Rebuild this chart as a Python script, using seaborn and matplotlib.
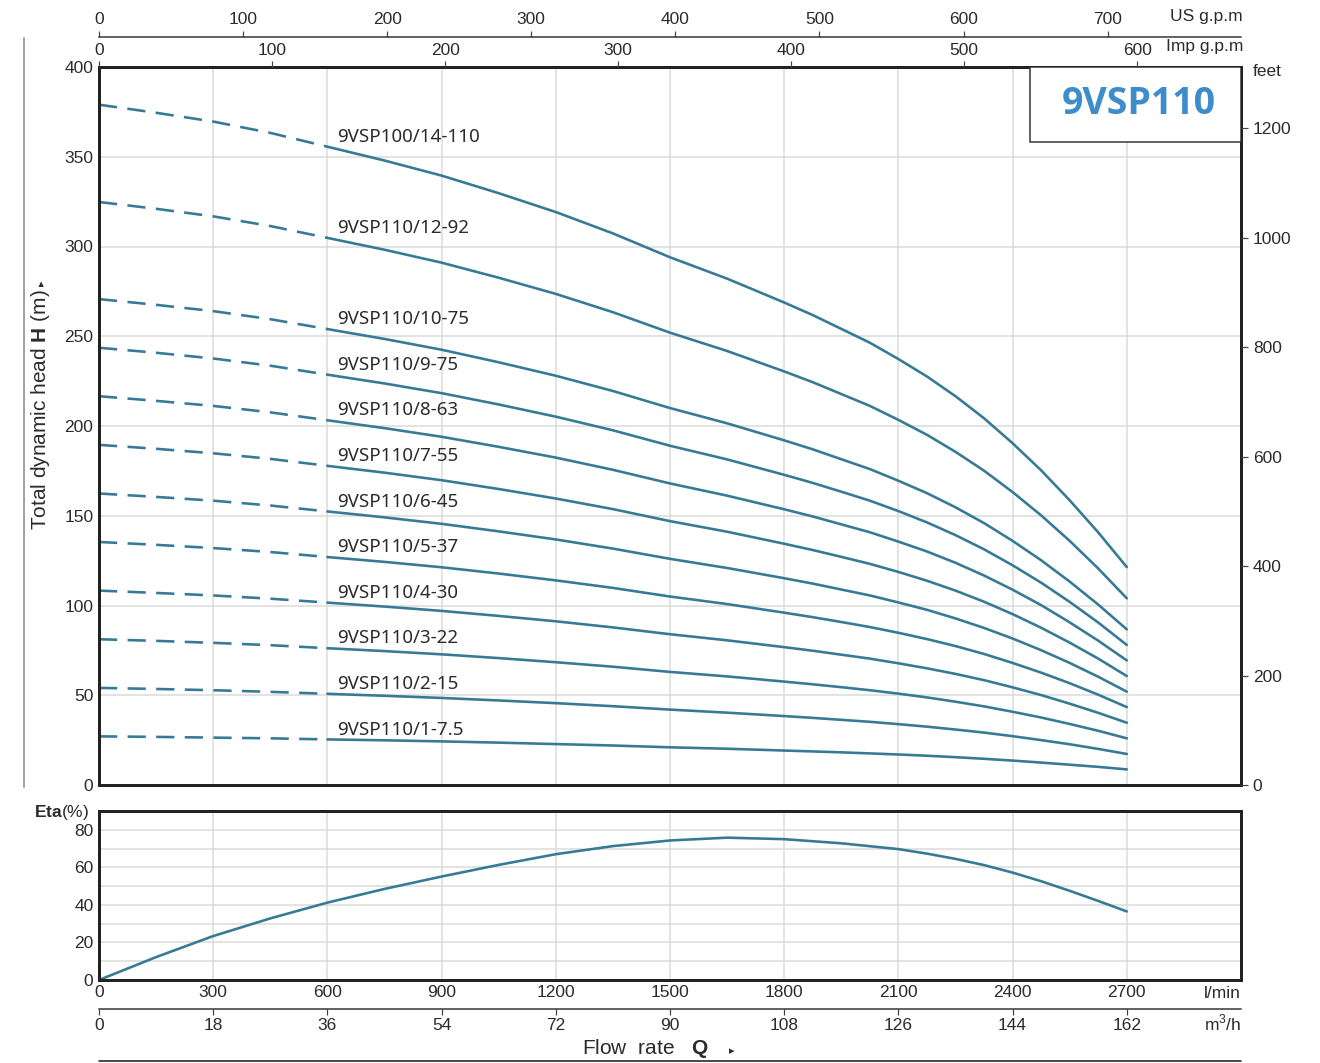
import numpy as np
import pandas as pd
import matplotlib
matplotlib.use("Agg")
import matplotlib.pyplot as plt
import seaborn as sns
from matplotlib.lines import Line2D
from matplotlib.patches import Rectangle

# ---------------- data ----------------
flow_lpm = [0, 150, 300, 450, 600, 750, 900, 1050, 1200, 1350, 1500, 1650, 1800,
            1875, 1950, 2025, 2100, 2175, 2250, 2325, 2400, 2475, 2550, 2625, 2700]

head_14_110 = [379.0, 374.5, 369.6, 363.3, 355.6, 347.9, 339.5, 329.7, 319.2, 307.3, 294.0, 282.1, 268.8, 261.8, 254.1, 246.4, 237.3, 227.6, 216.6, 204.3, 190.4, 175.3, 158.6, 140.7, 121.4]
head_12_92 = [324.8, 321.0, 316.8, 311.4, 304.8, 298.2, 291.0, 282.6, 273.6, 263.4, 252.0, 241.8, 230.4, 224.4, 217.8, 211.2, 203.4, 195.1, 185.6, 175.1, 163.2, 150.2, 136.0, 120.6, 104.0]
head_10_75 = [270.7, 267.5, 264.0, 259.5, 254.0, 248.5, 242.5, 235.5, 228.0, 219.5, 210.0, 201.5, 192.0, 187.0, 181.5, 176.0, 169.5, 162.6, 154.7, 145.9, 136.0, 125.2, 113.3, 100.5, 86.7]
head_9_75 = [243.6, 240.8, 237.6, 233.6, 228.6, 223.7, 218.3, 212.0, 205.2, 197.6, 189.0, 181.4, 172.8, 168.3, 163.4, 158.4, 152.6, 146.3, 139.2, 131.3, 122.4, 112.7, 102.0, 90.5, 78.0]
head_8_63 = [216.6, 214.0, 211.2, 207.6, 203.2, 198.8, 194.0, 188.4, 182.4, 175.6, 168.0, 161.2, 153.6, 149.6, 145.2, 140.8, 135.6, 130.1, 123.8, 116.7, 108.8, 100.2, 90.6, 80.4, 69.4]
head_7_55 = [189.5, 187.3, 184.8, 181.7, 177.8, 174.0, 169.8, 164.9, 159.6, 153.7, 147.0, 141.1, 134.4, 130.9, 127.1, 123.2, 118.7, 113.8, 108.3, 102.1, 95.2, 87.6, 79.3, 70.4, 60.7]
head_6_45 = [162.4, 160.5, 158.4, 155.7, 152.4, 149.1, 145.5, 141.3, 136.8, 131.7, 126.0, 120.9, 115.2, 112.2, 108.9, 105.6, 101.7, 97.6, 92.8, 87.5, 81.6, 75.1, 68.0, 60.3, 52.0]
head_5_37 = [135.4, 133.8, 132.0, 129.8, 127.0, 124.3, 121.3, 117.8, 114.0, 109.8, 105.0, 100.8, 96.0, 93.5, 90.8, 88.0, 84.8, 81.3, 77.4, 73.0, 68.0, 62.6, 56.7, 50.3, 43.4]
head_4_30 = [108.3, 107.0, 105.6, 103.8, 101.6, 99.4, 97.0, 94.2, 91.2, 87.8, 84.0, 80.6, 76.8, 74.8, 72.6, 70.4, 67.8, 65.0, 61.9, 58.4, 54.4, 50.1, 45.3, 40.2, 34.7]
head_3_22 = [81.2, 80.3, 79.2, 77.9, 76.2, 74.6, 72.8, 70.7, 68.4, 65.9, 63.0, 60.5, 57.6, 56.1, 54.5, 52.8, 50.9, 48.8, 46.4, 43.8, 40.8, 37.6, 34.0, 30.2, 26.0]
head_2_15 = [54.1, 53.5, 52.8, 51.9, 50.8, 49.7, 48.5, 47.1, 45.6, 43.9, 42.0, 40.3, 38.4, 37.4, 36.3, 35.2, 33.9, 32.5, 30.9, 29.2, 27.2, 25.0, 22.7, 20.1, 17.3]
head_1_7_5 = [27.1, 26.8, 26.4, 26.0, 25.4, 24.9, 24.3, 23.6, 22.8, 22.0, 21.0, 20.2, 19.2, 18.7, 18.2, 17.6, 17.0, 16.3, 15.5, 14.6, 13.6, 12.5, 11.3, 10.1, 8.7]

curve_labels = ["9VSP100/14-110", "9VSP110/12-92", "9VSP110/10-75", "9VSP110/9-75",
                "9VSP110/8-63", "9VSP110/7-55", "9VSP110/6-45", "9VSP110/5-37",
                "9VSP110/4-30", "9VSP110/3-22", "9VSP110/2-15", "9VSP110/1-7.5"]
head_curves = [head_14_110, head_12_92, head_10_75, head_9_75, head_8_63, head_7_55,
               head_6_45, head_5_37, head_4_30, head_3_22, head_2_15, head_1_7_5]

eta_flow = [0, 150, 300, 450, 600, 750, 900, 1050, 1200, 1350, 1500, 1650, 1800,
            1950, 2100, 2175, 2250, 2325, 2400, 2475, 2550, 2625, 2700]
eta_values = [0.0, 12.2, 23.4, 32.8, 41.2, 48.5, 55.1, 61.3, 67.0, 71.3, 74.3, 75.8, 75.0,
              72.8, 69.7, 67.3, 64.5, 61.2, 57.2, 52.6, 47.5, 42.1, 36.5]

lpm_ticks = [0, 300, 600, 900, 1200, 1500, 1800, 2100, 2400, 2700]
m3h_ticks = [0, 18, 36, 54, 72, 90, 108, 126, 144, 162]
us_gpm_ticks = [0, 100, 200, 300, 400, 500, 600, 700]
imp_gpm_ticks = [0, 100, 200, 300, 400, 500, 600]
head_ticks = [0, 50, 100, 150, 200, 250, 300, 350, 400]
feet_ticks = [0, 200, 400, 600, 800, 1000, 1200]
eta_ticks = [0, 20, 40, 60, 80]
model_name = "9VSP110"

# ---------------- style ----------------
sns.set_theme(style="white")
plt.rcParams["font.family"] = ["Liberation Sans", "DejaVu Sans"]
plt.rcParams["mathtext.fontset"] = "custom"
plt.rcParams["mathtext.rm"] = "Liberation Sans"
plt.rcParams["mathtext.bf"] = "Liberation Sans:bold"

W, H = 1320, 1063
DPI = 100
fig = plt.figure(figsize=(W / DPI, H / DPI), dpi=DPI)
fig.patch.set_facecolor("white")

def fx(x):
    return x / W

def fy(y):
    return 1 - y / H

PT = 72 / DPI  # points per pixel
LINE_C = "#367a96"
TXT_C = "#2b2b2b"
GRID_C = "#dadada"
SPINE_C = "#222222"
SPINE_W = 3 * PT

XMAX = 3000.0
L, R = 99, 1241
ax = fig.add_axes([fx(L), fy(785), fx(R - L), fy(67) - fy(785)])
ax_eta = fig.add_axes([fx(L), fy(980), fx(R - L), fy(811) - fy(980)])

# ---------------- head curves ----------------
for name, heads in zip(curve_labels, head_curves):
    df = pd.DataFrame({"flow": flow_lpm, "head": heads})
    dashed = df[df["flow"] <= 600]
    solid = df[df["flow"] >= 600]
    sns.lineplot(data=dashed, x="flow", y="head", ax=ax, color=LINE_C,
                 linewidth=2.6 * PT, linestyle=(0, (7, 4)), errorbar=None, legend=False)
    sns.lineplot(data=solid, x="flow", y="head", ax=ax, color=LINE_C,
                 linewidth=2.6 * PT, errorbar=None, legend=False)
    h600 = df.loc[df["flow"] == 600, "head"].iloc[0]
    ax.text(625, h600 + 5.5, name, fontsize=13.5, color=TXT_C,
            family=["Noto Sans", "DejaVu Sans"], va="center", ha="left", zorder=5)

ax.set_xlim(0, XMAX)
ax.set_ylim(0, 400)
ax.set_xticks(lpm_ticks + [3000])
ax.set_yticks(head_ticks)
ax.set_yticklabels([str(t) for t in head_ticks])
ax.tick_params(axis="x", bottom=False, labelbottom=False, top=False, labeltop=False, length=0)
ax.tick_params(axis="y", left=True, labelleft=True, length=0, pad=4, labelsize=12.5, labelcolor=TXT_C)
ax.grid(True, color=GRID_C, linewidth=1.5 * PT)
ax.set_axisbelow(True)
ax.set_xlabel("")
ax.set_ylabel("")
for s in ax.spines.values():
    s.set_visible(True)
    s.set_linewidth(SPINE_W)
    s.set_color(SPINE_C)

# model box
box_x0 = (1030 - L) / (R - L) * XMAX
box_y0 = (785 - 142) / (785 - 67) * 400
ax.add_patch(Rectangle((box_x0, box_y0), XMAX - box_x0, 400 - box_y0,
                       facecolor="white", edgecolor="#333333", linewidth=1.5 * PT, zorder=6))
ax.text((box_x0 + XMAX) / 2 + 8, (box_y0 + 400) / 2 + 0.5, model_name, fontsize=27,
        fontweight="bold", color="#3d8ccb", family=["Open Sans", "Roboto", "DejaVu Sans"],
        ha="center", va="center", zorder=7)

# right axis: feet
ax_ft = ax.twinx()
ax_ft.set_ylim(0, 400 * 3.28084)
ax_ft.set_yticks(feet_ticks)
ax_ft.set_yticklabels([str(t) for t in feet_ticks])
ax_ft.tick_params(axis="y", right=True, labelright=True, left=False, labelleft=False,
                  direction="out", length=7 * PT, width=1.2 * PT, color="#444444",
                  pad=3.5, labelsize=12.5, labelcolor=TXT_C)
ax_ft.grid(False)
for k, s in ax_ft.spines.items():
    s.set_visible(False)

# top axis: Imp gpm
ax_imp = ax.twiny()
ax_imp.set_xlim(0, XMAX / 4.54609)
ax_imp.set_xticks(imp_gpm_ticks)
ax_imp.set_xticklabels([str(t) for t in imp_gpm_ticks])
ax_imp.tick_params(axis="x", top=True, labeltop=True, bottom=False, labelbottom=False,
                   direction="out", length=6 * PT, width=1.2 * PT, color="#444444",
                   pad=2.5, labelsize=12.5, labelcolor=TXT_C)
ax_imp.grid(False)
for s in ax_imp.spines.values():
    s.set_visible(False)

# top axis: US gpm
ax_us = ax.twiny()
ax_us.set_xlim(0, XMAX / 3.785411784)
ax_us.set_xticks(us_gpm_ticks)
ax_us.set_xticklabels([str(t) for t in us_gpm_ticks])
ax_us.tick_params(axis="x", top=True, labeltop=True, bottom=False, labelbottom=False,
                  direction="out", length=6 * PT, width=1.2 * PT, color="#444444",
                  pad=3, labelsize=12.5, labelcolor=TXT_C)
ax_us.grid(False)
for k, s in ax_us.spines.items():
    s.set_visible(k == "top")
ax_us.spines["top"].set_position(("outward", 30 * PT))
ax_us.spines["top"].set_linewidth(1.5 * PT)
ax_us.spines["top"].set_color("#333333")

# ---------------- efficiency panel ----------------
eta_df = pd.DataFrame({"flow": eta_flow, "eta": eta_values})
sns.lineplot(data=eta_df, x="flow", y="eta", ax=ax_eta, color=LINE_C,
             linewidth=2.6 * PT, errorbar=None, legend=False)
ax_eta.set_xlim(0, XMAX)
ax_eta.set_ylim(0, 90)
ax_eta.set_xticks(lpm_ticks + [3000])
ax_eta.set_xticklabels([str(t) for t in lpm_ticks] + [""])
ax_eta.set_yticks(list(range(0, 91, 10)))
ax_eta.set_yticklabels([str(t) if t in eta_ticks else "" for t in range(0, 91, 10)])
ax_eta.tick_params(axis="x", bottom=True, labelbottom=True, length=0, pad=3.5,
                   labelsize=12.5, labelcolor=TXT_C)
ax_eta.tick_params(axis="y", left=True, labelleft=True, length=0, pad=4,
                   labelsize=12.5, labelcolor=TXT_C)
ax_eta.grid(True, color=GRID_C, linewidth=1.5 * PT)
ax_eta.set_axisbelow(True)
ax_eta.set_xlabel("")
ax_eta.set_ylabel("")
for s in ax_eta.spines.values():
    s.set_visible(True)
    s.set_linewidth(SPINE_W)
    s.set_color(SPINE_C)

# bottom axis: m3/h
ax_m3 = ax_eta.twiny()
ax_m3.set_xlim(0, XMAX * 60 / 1000)
ax_m3.xaxis.set_ticks_position("bottom")
ax_m3.xaxis.set_label_position("bottom")
ax_m3.set_xticks(m3h_ticks)
ax_m3.set_xticklabels([str(t) for t in m3h_ticks])
ax_m3.tick_params(axis="x", bottom=True, labelbottom=True, top=False, labeltop=False,
                  direction="out", length=6 * PT, width=1.2 * PT, color="#444444",
                  pad=2.5, labelsize=12.5, labelcolor=TXT_C)
ax_m3.grid(False)
for k, s in ax_m3.spines.items():
    s.set_visible(k == "bottom")
ax_m3.spines["bottom"].set_position(("outward", 29 * PT))
ax_m3.spines["bottom"].set_linewidth(1.5 * PT)
ax_m3.spines["bottom"].set_color("#333333")

# ---------------- figure texts ----------------
fs = 12.5
fig.text(fx(1243), fy(17), "US g.p.m", ha="right", va="center", fontsize=fs, color=TXT_C)
fig.text(fx(1243), fy(47), "Imp g.p.m", ha="right", va="center", fontsize=fs, color=TXT_C)
fig.text(fx(1253), fy(72), "feet", ha="left", va="center", fontsize=fs, color=TXT_C)
fig.text(fx(1241), fy(994), "l/min", ha="right", va="center", fontsize=fs, color=TXT_C)
fig.text(fx(1241), fy(1023), r"m$^3$/h", ha="right", va="center", fontsize=fs, color=TXT_C)
fig.text(fx(89), fy(812), r"$\mathbf{Eta}$(%)", ha="right", va="center", fontsize=12.5, color=TXT_C)

fig.text(fx(41), fy(410), r"Total dynamic head $\mathbf{H}$ (m)", rotation=90,
         ha="center", va="center", fontsize=15, color=TXT_C)
fig.text(fx(42), fy(283), "\u25B8", rotation=90, ha="center", va="center",
         fontsize=8, color=TXT_C, family=["DejaVu Sans"])

fig.text(fx(582), fy(1049), r"Flow  rate   $\mathbf{Q}$", ha="left", va="center",
         fontsize=15, color=TXT_C)
fig.text(fx(732), fy(1051), "\u25B8", ha="center", va="center", fontsize=8,
         color=TXT_C, family=["DejaVu Sans"])

fig.add_artist(Line2D([fx(24), fx(24)], [fy(38), fy(787)], color="#8a8a8a",
                      linewidth=1.6 * PT, transform=fig.transFigure))
fig.add_artist(Line2D([fx(L), fx(R)], [fy(1061), fy(1061)], color="#222222",
                      linewidth=1.6 * PT, transform=fig.transFigure))

fig.savefig("out.png", dpi=DPI, facecolor="white")
